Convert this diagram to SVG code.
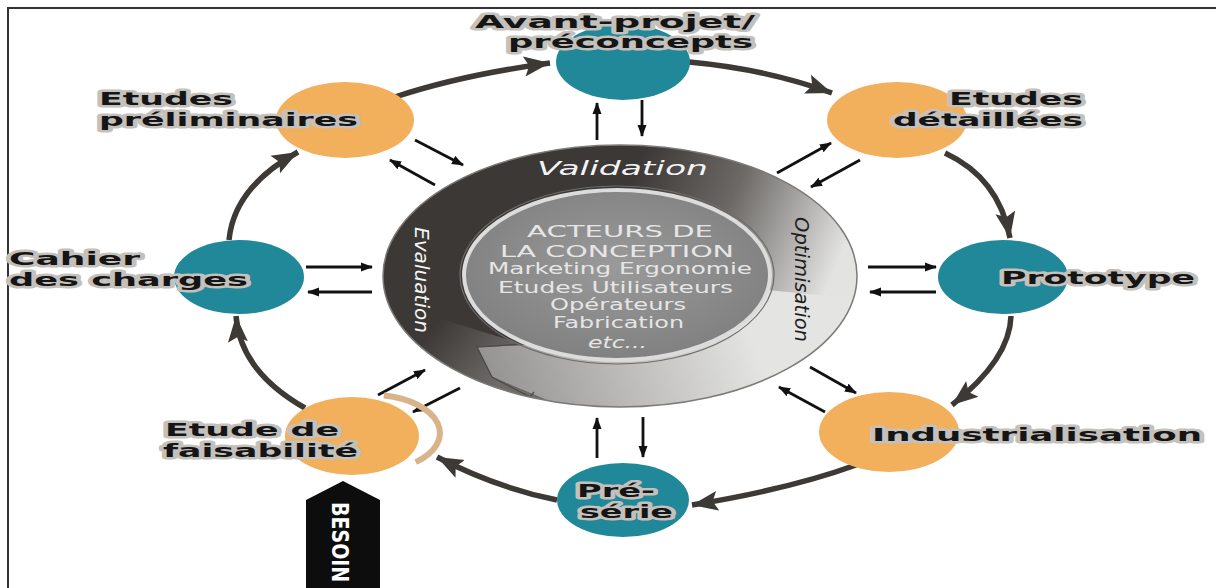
<svg xmlns="http://www.w3.org/2000/svg" width="1216" height="588" viewBox="0 0 1216 588">
<defs>
<style>
.lbl{font-family:"DejaVu Sans","Liberation Sans",sans-serif;font-weight:bold;font-size:18px;fill:#151515;stroke:#c4c0bb;stroke-width:5px;stroke-linejoin:round;paint-order:stroke}
.ringtxt{font-family:"DejaVu Sans","Liberation Sans",sans-serif;font-style:italic;font-size:20px}
.inner{font-family:"DejaVu Sans","Liberation Sans",sans-serif;font-size:15px;fill:#e6e6e6}
.orange{fill:#f2b05c}
.teal{fill:#21889a}
.big{fill:none;stroke:#3d3935;stroke-width:5.5;marker-end:url(#bigHead)}
.thin{fill:none;stroke:#111;stroke-width:2.8;marker-end:url(#smallHead)}
</style>
<marker id="bigHead" markerUnits="userSpaceOnUse" markerWidth="28" markerHeight="22" refX="26" refY="11" orient="auto"><path d="M0,1 L26,11 L0,21 L5,11 z" fill="#3d3935"/></marker>
<marker id="smallHead" markerUnits="userSpaceOnUse" markerWidth="12" markerHeight="10" refX="11" refY="5" orient="auto"><path d="M0,0.5 L12,5 L0,9.5 z" fill="#111"/></marker>
<linearGradient id="ringBase" gradientUnits="userSpaceOnUse" x1="470" y1="390" x2="740" y2="300"><stop offset="0" stop-color="#8f8d8b"/><stop offset="1" stop-color="#e4e4e2"/></linearGradient>
<linearGradient id="ringDark" gradientUnits="userSpaceOnUse" x1="640" y1="160" x2="845" y2="245"><stop offset="0" stop-color="#3b3835"/><stop offset="0.45" stop-color="#6b6865"/><stop offset="1" stop-color="#e3e3e1"/></linearGradient>
<linearGradient id="lowLeft" gradientUnits="userSpaceOnUse" x1="430" y1="330" x2="495" y2="385"><stop offset="0" stop-color="#7a7874" stop-opacity="0"/><stop offset="1" stop-color="#7a7874" stop-opacity="0.8"/></linearGradient>
<radialGradient id="disc" cx="0.5" cy="0.45" r="0.6"><stop offset="0" stop-color="#9a9a9a"/><stop offset="1" stop-color="#7e7e7e"/></radialGradient>
<clipPath id="ringClip"><ellipse cx="620" cy="276" rx="237" ry="131"/></clipPath>
</defs>
<rect width="1216" height="588" fill="#ffffff"/>
<path d="M8,588 V8 H1216" fill="none" stroke="#333" stroke-width="2"/>

<g id="ring">
<ellipse cx="620" cy="276" rx="237" ry="131" fill="url(#ringBase)"/>
<polygon clip-path="url(#ringClip)" points="620,276 525,345 477,347 492,377 568,409 300,600 300,0 1090,0 1090,321" fill="url(#ringDark)"/>
<polygon clip-path="url(#ringClip)" points="380,300 525,345 477,347 492,377 568,409 380,420" fill="url(#lowLeft)"/>
<polyline points="522,344 477,347 492,377 530,397 534,392" fill="none" stroke="#4d4b48" stroke-width="1.3"/>
<ellipse cx="620" cy="276" rx="237" ry="131" fill="none" stroke="#7d7b78" stroke-width="1.5"/>
<ellipse cx="617" cy="275" rx="157" ry="89" fill="none" stroke="#6f6d6a" stroke-width="1.2"/>
<ellipse cx="617" cy="275" rx="153" ry="85" fill="url(#disc)" stroke="#dcdcdc" stroke-width="4"/>
<text class="ringtxt" x="537" y="175" textLength="171" lengthAdjust="spacingAndGlyphs" fill="#f4f4f4">Validation</text>
<text class="ringtxt" transform="translate(415,227) rotate(90)" textLength="106" lengthAdjust="spacingAndGlyphs" fill="#f4f4f4" font-size="23">Evaluation</text>
<text class="ringtxt" transform="translate(795,217) rotate(90)" textLength="125" lengthAdjust="spacingAndGlyphs" fill="#1e1e1e" font-size="23">Optimisation</text>
<text class="inner" x="527" y="237" textLength="186" lengthAdjust="spacingAndGlyphs">ACTEURS DE</text>
<text class="inner" x="500" y="257" textLength="234" lengthAdjust="spacingAndGlyphs">LA CONCEPTION</text>
<text class="inner" x="488" y="274" textLength="264" lengthAdjust="spacingAndGlyphs">Marketing Ergonomie</text>
<text class="inner" x="498" y="293" textLength="235" lengthAdjust="spacingAndGlyphs">Etudes Utilisateurs</text>
<text class="inner" x="550" y="310" textLength="136" lengthAdjust="spacingAndGlyphs">Opérateurs</text>
<text class="inner" x="553" y="328" textLength="131" lengthAdjust="spacingAndGlyphs">Fabrication</text>
<text class="inner" x="588" y="348" textLength="59" lengthAdjust="spacingAndGlyphs" font-style="italic">etc...</text>
</g>

<g id="connectors">
<path class="big" d="M395,97 Q461,75 550,63"/>
<path class="big" d="M689,62 Q766,69 832,93"/>
<path class="big" d="M945,153 Q999,178 1010,238"/>
<path class="big" d="M1011,316 Q1010,359 952,405"/>
<path class="big" d="M856,465 Q790,489 692,505"/>
<path class="big" d="M557,500 Q497,488 437,457"/>
<path class="big" d="M305,408 Q240,371 236,316"/>
<path class="big" d="M229,240 Q234,187 298,152"/>
<path class="thin" d="M597,140 L597,103"/>
<path class="thin" d="M642,100 L642,136"/>
<path class="thin" d="M597,458 L597,418"/>
<path class="thin" d="M643,417 L643,457"/>
<path class="thin" d="M306,267 L372,267"/>
<path class="thin" d="M372,292 L308,292"/>
<path class="thin" d="M868,267 L936,267"/>
<path class="thin" d="M936,292 L870,292"/>
<path class="thin" d="M415,140 L463,165"/>
<path class="thin" d="M435,185 L390,160"/>
<path class="thin" d="M777,173 L831,143"/>
<path class="thin" d="M860,160 L811,187"/>
<path class="thin" d="M378,395 L425,370"/>
<path class="thin" d="M460,388 L413,412"/>
<path class="thin" d="M810,367 L856,393"/>
<path class="thin" d="M825,412 L779,387"/>
</g>

<g id="n-avant">
<ellipse class="teal" cx="623" cy="62" rx="67" ry="38"/>
<text class="lbl" x="475" y="28" textLength="280" lengthAdjust="spacingAndGlyphs">Avant-projet/</text>
<text class="lbl" x="508" y="48" textLength="245" lengthAdjust="spacingAndGlyphs">préconcepts</text>
</g>
<g id="n-prelim">
<ellipse class="orange" cx="345" cy="120" rx="69" ry="38"/>
<text class="lbl" x="99" y="105" textLength="134" lengthAdjust="spacingAndGlyphs">Etudes</text>
<text class="lbl" x="99" y="126" textLength="259" lengthAdjust="spacingAndGlyphs">préliminaires</text>
</g>
<g id="n-details">
<ellipse class="orange" cx="897" cy="120" rx="70" ry="38"/>
<text class="lbl" x="949" y="105" textLength="134" lengthAdjust="spacingAndGlyphs">Etudes</text>
<text class="lbl" x="893" y="126" textLength="190" lengthAdjust="spacingAndGlyphs">détaillées</text>
</g>
<g id="n-cahier">
<ellipse class="teal" cx="239" cy="277" rx="65" ry="37"/>
<text class="lbl" x="9" y="265" textLength="131" lengthAdjust="spacingAndGlyphs">Cahier</text>
<text class="lbl" x="9" y="286" textLength="239" lengthAdjust="spacingAndGlyphs">des charges</text>
</g>
<g id="n-prototype">
<ellipse class="teal" cx="1003" cy="277" rx="65" ry="37"/>
<text class="lbl" x="1001" y="284" textLength="194" lengthAdjust="spacingAndGlyphs">Prototype</text>
</g>
<g id="n-faisabilite">
<path d="M383.8,395.6 A68,38 0 0 1 415.7,462.1" fill="none" stroke="#d9b48a" stroke-width="6"/>
<ellipse class="orange" cx="352" cy="436" rx="67" ry="39"/>
<text class="lbl" x="165" y="436" textLength="174" lengthAdjust="spacingAndGlyphs">Etude de</text>
<text class="lbl" x="163" y="457" textLength="195" lengthAdjust="spacingAndGlyphs">faisabilité</text>
</g>
<g id="n-industrialisation">
<ellipse class="orange" cx="889" cy="432" rx="70" ry="40"/>
<text class="lbl" x="872" y="441" textLength="330" lengthAdjust="spacingAndGlyphs">Industrialisation</text>
</g>
<g id="n-preserie">
<ellipse class="teal" cx="623" cy="500" rx="66" ry="37"/>
<text class="lbl" x="577" y="497" textLength="78" lengthAdjust="spacingAndGlyphs">Pré-</text>
<text class="lbl" x="580" y="518" textLength="93" lengthAdjust="spacingAndGlyphs">série</text>
</g>
<g id="n-besoin">
<polygon points="306,588 306,500 343,481 380,500 380,588" fill="#0d0d0d"/>
<text transform="translate(332,502) rotate(90) scale(1,1.25)" font-family="DejaVu Sans, Liberation Sans, sans-serif" font-weight="bold" font-size="19" fill="#ffffff">BESOIN</text>
</g>
</svg>
